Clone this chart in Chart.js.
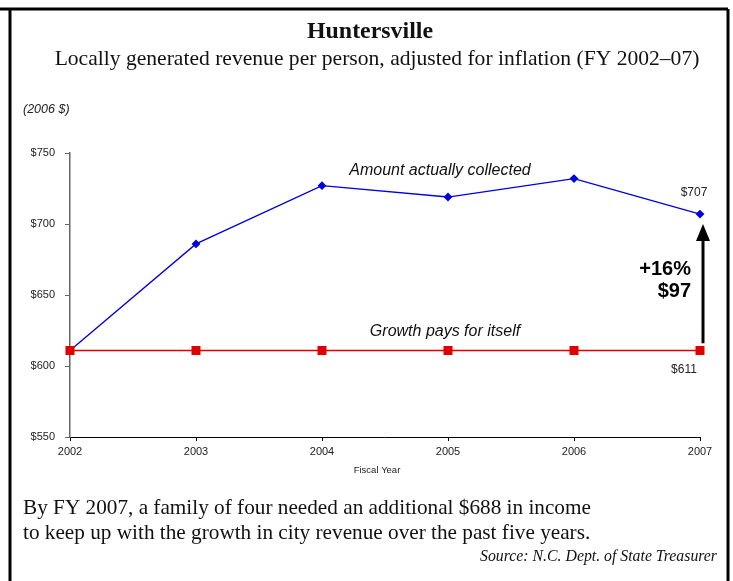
<!DOCTYPE html>
<html>
<head>
<meta charset="utf-8">
<script src="https://cdn.jsdelivr.net/npm/chart.js@4.4.0/dist/chart.umd.min.js"></script>
<style>
  body { margin: 0; background: #fff; }
  canvas { display: block; }
</style>
</head>
<body>
<canvas id="revChart" width="733" height="581"></canvas>
<script>
// values (2006 dollars per person)
const years = ['2002', '2003', '2004', '2005', '2006', '2007'];
const collected = [611, 686, 727, 719, 732, 707];
const growthPays = [611, 611, 611, 611, 611, 611];
const yMin = 550, yMax = 750, yStep = 50;
const arrowFrom = 616, arrowTo = 700, arrowHead = 688;

const SERIF = '"Liberation Serif", "Times New Roman", serif';
const SANS = '"Liberation Sans", Arial, sans-serif';

// scale a font so the text fills a given width
function fitFont(ctx, text, style, family, width) {
  ctx.font = style + ' 20px ' + family;
  const w = ctx.measureText(text).width;
  ctx.font = style + ' ' + (20 * width / w).toFixed(2) + 'px ' + family;
}

const decorations = {
  id: 'decorations',
  afterDraw(chart) {
    const ctx = chart.ctx;
    const x = chart.scales.x, y = chart.scales.y;
    ctx.save();

    // frame
    ctx.strokeStyle = '#000';
    ctx.lineWidth = 3;
    ctx.beginPath();
    ctx.moveTo(0, 9);
    ctx.lineTo(728, 9);
    ctx.moveTo(10, 9);
    ctx.lineTo(10, 581);
    ctx.moveTo(728, 9);
    ctx.lineTo(728, 581);
    ctx.stroke();

    ctx.fillStyle = '#111';
    ctx.textBaseline = 'middle';
    ctx.textAlign = 'center';
    fitFont(ctx, 'Huntersville', 'bold', SERIF, 126);
    ctx.fillText('Huntersville', 370, 32);
    const sub = 'Locally generated revenue per person, adjusted for inflation (FY 2002\u201307)';
    fitFont(ctx, sub, '', SERIF, 645);
    ctx.fillText(sub, 377, 59);

    ctx.textAlign = 'left';
    ctx.font = 'italic 12.5px ' + SANS;
    ctx.fillStyle = '#222';
    ctx.fillText('(2006 $)', 23, 110);

    // series captions
    ctx.textAlign = 'center';
    ctx.font = 'italic 16px ' + SANS;
    ctx.fillStyle = '#111';
    ctx.fillText('Amount actually collected', 440, 171);
    ctx.fillText('Growth pays for itself', 445, 332);

    const xEnd = x.getPixelForValue(5);
    ctx.font = '12px ' + SANS;
    ctx.fillStyle = '#222';
    ctx.fillText('$' + collected[5], xEnd - 6, y.getPixelForValue(collected[5]) - 21);
    ctx.fillText('$' + growthPays[5], xEnd - 16, y.getPixelForValue(growthPays[5]) + 19);

    // change arrow
    const ax = xEnd + 3;
    ctx.strokeStyle = '#000';
    ctx.fillStyle = '#000';
    ctx.lineWidth = 3;
    ctx.beginPath();
    ctx.moveTo(ax, y.getPixelForValue(arrowFrom));
    ctx.lineTo(ax, y.getPixelForValue(arrowHead));
    ctx.stroke();
    ctx.beginPath();
    ctx.moveTo(ax, y.getPixelForValue(arrowTo));
    ctx.lineTo(ax - 7, y.getPixelForValue(arrowHead));
    ctx.lineTo(ax + 7, y.getPixelForValue(arrowHead));
    ctx.closePath();
    ctx.fill();

    ctx.textAlign = 'right';
    ctx.font = 'bold 20px ' + SANS;
    ctx.fillText('+16%', 691, 269);
    ctx.fillText('$97', 691, 291);

    ctx.textAlign = 'center';
    ctx.font = '9.5px ' + SANS;
    ctx.fillStyle = '#222';
    ctx.fillText('Fiscal Year', 377, 470);

    // note + source
    ctx.textAlign = 'left';
    ctx.fillStyle = '#111';
    const l1 = 'By FY 2007, a family of four needed an additional $688 in income';
    const l2 = 'to keep up with the growth in city revenue over the past five years.';
    fitFont(ctx, l1, '', SERIF, 568);
    ctx.fillText(l1, 23, 508);
    ctx.fillText(l2, 23, 533);
    ctx.textAlign = 'right';
    const src = 'Source: N.C. Dept. of State Treasurer';
    fitFont(ctx, src, 'italic', SERIF, 237);
    ctx.fillText(src, 717, 557);

    ctx.restore();
  }
};

const ctx = document.getElementById('revChart').getContext('2d');

new Chart(ctx, {
  type: 'line',
  data: {
    labels: years,
    datasets: [
      {
        label: 'Amount actually collected',
        data: collected,
        borderColor: '#0000e0',
        backgroundColor: '#0000e0',
        borderWidth: 1.3,
        pointStyle: 'rectRot',
        pointRadius: 3.5,
        tension: 0,
        clip: false,
        order: 1
      },
      {
        label: 'Growth pays for itself',
        data: growthPays,
        borderColor: '#e00000',
        backgroundColor: '#e00000',
        borderWidth: 1.5,
        pointStyle: 'rect',
        pointRadius: 5.3,
        tension: 0,
        clip: false,
        order: 0
      }
    ]
  },
  options: {
    responsive: false,
    animation: false,
    layout: { padding: { left: 0, right: 33, top: 153, bottom: 114 } },
    plugins: { legend: { display: false }, tooltip: { enabled: false } },
    scales: {
      x: {
        type: 'category',
        offset: false,
        grid: { drawOnChartArea: false, tickLength: 4, color: '#000' },
        border: { color: '#000', width: 1 },
        ticks: { font: { family: SANS, size: 11 }, color: '#222', padding: 4, maxRotation: 0, autoSkip: false },
        afterFit: s => { s.height = 30; }
      },
      y: {
        min: yMin,
        max: yMax,
        grid: { drawOnChartArea: false, tickLength: 5, color: '#666' },
        border: { color: '#666', width: 1.5 },
        ticks: {
          stepSize: yStep,
          padding: 10,
          font: { family: SANS, size: 11 },
          color: '#222',
          callback: v => '$' + v
        },
        afterFit: s => { s.width = 70; }
      }
    }
  },
  plugins: [decorations]
});
</script>
</body>
</html>
